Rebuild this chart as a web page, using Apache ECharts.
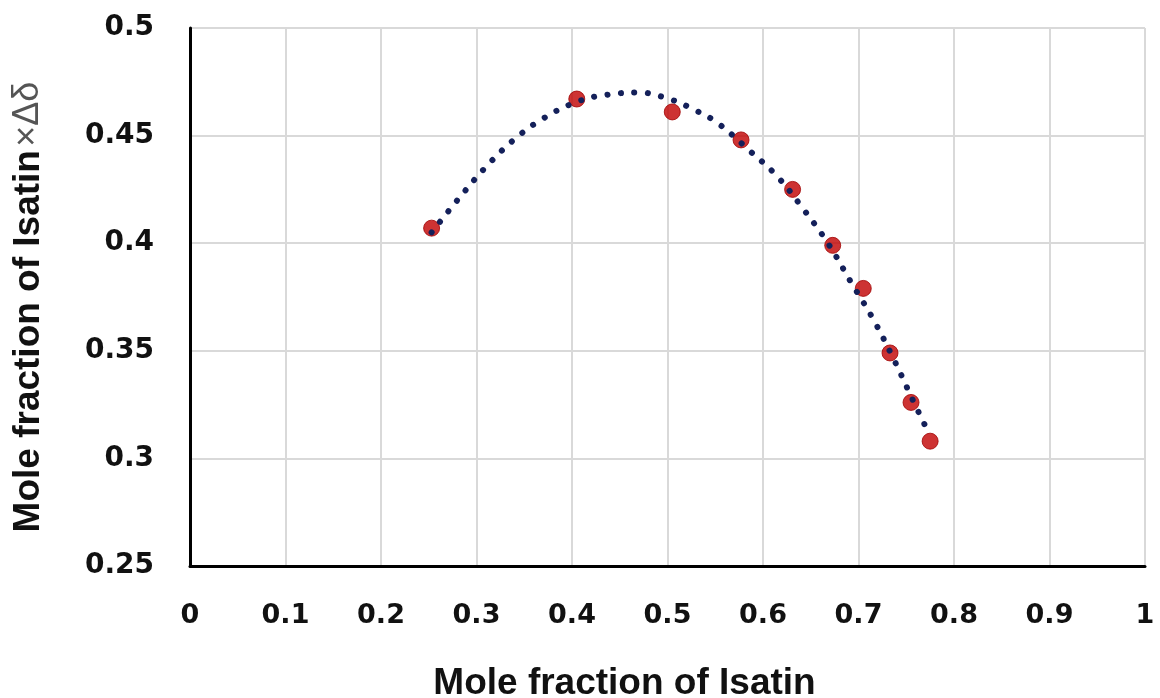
<!DOCTYPE html>
<html>
<head>
<meta charset="utf-8">
<script src="https://cdn.jsdelivr.net/npm/echarts@6/dist/echarts.min.js"></script>
<style>
html,body{margin:0;padding:0;background:#fff;}
#chart{width:1160px;height:698px;}
</style>
</head>
<body>
<div id="chart"></div>
<script>
// Measured points
const moleFraction = [0.253, 0.405, 0.505, 0.577, 0.631, 0.673, 0.705, 0.733, 0.755, 0.775];
const productValues = [0.407, 0.467, 0.461, 0.448, 0.425, 0.399, 0.379, 0.349, 0.326, 0.308];
// Trendline
const trendX = [0.253, 0.280, 0.309, 0.339, 0.370, 0.407, 0.437, 0.470, 0.502, 0.528, 0.552, 0.586, 0.615, 0.642, 0.668, 0.692, 0.715, 0.737, 0.757, 0.770];
const trendY = [0.405, 0.420, 0.435, 0.448, 0.458, 0.466, 0.469, 0.470, 0.467, 0.462, 0.456, 0.443, 0.431, 0.416, 0.400, 0.382, 0.365, 0.346, 0.327, 0.315];
const xTitle = 'Mole fraction of Isatin';
const yTitleMain = 'Mole fraction of Isatin';
const yTitleSuffix = '×Δδ';

const chart = echarts.init(document.getElementById('chart'), null, {renderer: 'canvas'});
const pts = moleFraction.map((x, i) => [x, productValues[i]]);
const trend = trendX.map((x, i) => [x, trendY[i]]);

chart.setOption({
  animation: false,
  backgroundColor: '#ffffff',
  grid: {left: 190, right: 15, top: 28, bottom: 132, containLabel: false, outerBoundsMode: 'none'},
  xAxis: {
    type: 'value', min: 0, max: 1, interval: 0.1,
    axisLine: {show: true, onZero: false, lineStyle: {color: '#000', width: 3}},
    axisTick: {show: false},
    splitLine: {show: true, lineStyle: {color: '#d9d9d9', width: 2}},
    axisLabel: {
      color: '#111', fontFamily: 'DejaVu Sans', fontWeight: 'bold', fontSize: 27, margin: 36,
      formatter: v => String(+v.toFixed(1))
    },
    name: xTitle, nameLocation: 'middle', nameGap: 99,
    nameTextStyle: {color: '#111', fontFamily: 'Liberation Sans', fontWeight: 'bold', fontSize: 37, padding: [0, 86, 0, 0]}
  },
  yAxis: {
    type: 'value', min: 0.25, max: 0.5, interval: 0.05,
    axisLine: {show: true, onZero: false, lineStyle: {color: '#000', width: 3}},
    axisTick: {show: false},
    splitLine: {show: true, lineStyle: {color: '#d9d9d9', width: 2}},
    axisLabel: {
      color: '#111', fontFamily: 'DejaVu Sans', fontWeight: 'bold', fontSize: 28, margin: 36,
      formatter: v => String(+v.toFixed(2))
    },
    name: '{b|' + yTitleMain + '} {n|' + yTitleSuffix + '}',
    nameLocation: 'middle', nameGap: 143,
    nameTextStyle: {
      padding: [0, 20, 0, 0],
      rich: {
        b: {color: '#111', fontFamily: 'Liberation Sans', fontWeight: 'bold', fontSize: 37},
        n: {color: '#555', fontFamily: 'Liberation Sans', fontWeight: 'normal', fontSize: 36}
      }
    }
  },
  series: [
    {
      type: 'scatter', data: pts, symbol: 'circle', symbolSize: 16, z: 2,
      itemStyle: {color: '#c00000', borderColor: '#a00000', borderWidth: 1}
    },
    {
      type: 'line', data: trend, smooth: 0.4, showSymbol: false, z: 3,
      lineStyle: {color: '#14205a', width: 6, type: [0.1, 13.4], cap: 'round'}
    }
  ]
});
</script>
</body>
</html>
